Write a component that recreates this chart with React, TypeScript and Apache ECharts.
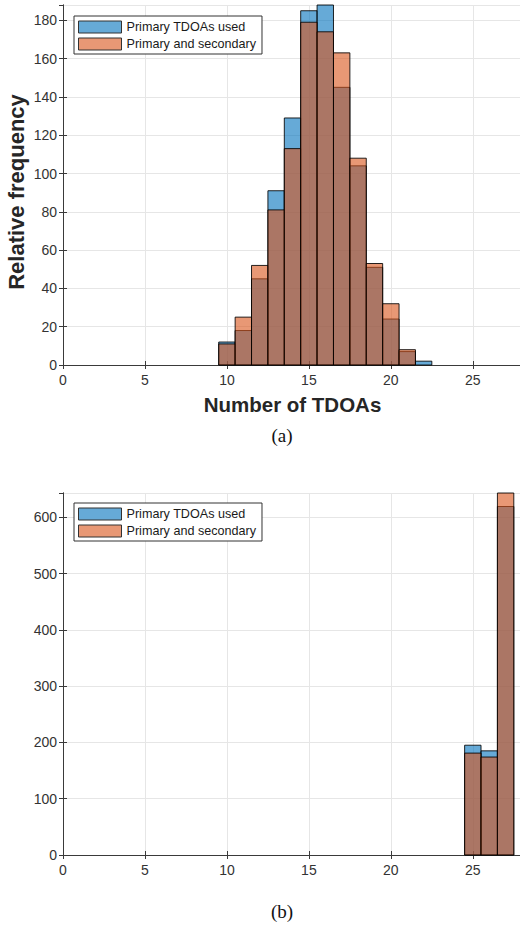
import React, { useEffect, useRef } from "react";
import * as echarts from "echarts";

// Histogram bins (centres; each bin spans centre ± 0.5)
const binsA = [10, 11, 12, 13, 14, 15, 16, 17, 18, 19, 20, 21, 22];
const primaryA = [12, 18, 45, 91, 129, 185, 191, 145, 104, 51, 24, 7, 2];
const combinedA = [11, 25, 52, 81, 113, 179, 174, 163, 108, 53, 32, 8, 0];

const binsB = [25, 26, 27];
const primaryB = [195, 185, 619];
const combinedB = [181, 174, 655];

const xTicks = [0, 5, 10, 15, 20, 25];
const names = ["Primary TDOAs used", "Primary and secondary"];
const captions = ["(a)", "(b)"];

const BLUE = "rgba(0,114,189,0.6)";
const ORANGE = "rgba(217,83,25,0.6)";
const SWATCH_BLUE = "#66aad7";
const SWATCH_ORANGE = "#e89875";
const AXIS = "#3a3a3a";
const LABEL = "#333333";
const GRIDLINE = "#e6e6e6";
const SANS = "'Liberation Sans', Arial, Helvetica, sans-serif";

function makeRender(fill: string) {
  return (params: any, api: any) => {
    const x = api.value(0);
    const v = api.value(1);
    if (!v) return null;
    const p0 = api.coord([x - 0.5, v]);
    const p1 = api.coord([x + 0.5, 0]);
    const cs = params.coordSys;
    const shape = echarts.graphic.clipRectByRect(
      { x: p0[0], y: p0[1], width: p1[0] - p0[0], height: p1[1] - p0[1] },
      { x: cs.x, y: cs.y, width: cs.width, height: cs.height }
    );
    if (!shape) return null;
    return {
      type: "rect",
      shape,
      style: { fill, stroke: "rgba(0,0,0,0.85)", lineWidth: 1 },
    };
  };
}

function xAxes(gridIndex: number) {
  const base = {
    type: "value" as const,
    gridIndex,
    min: 0,
    max: 28,
    interval: 5,
    axisLine: { show: true, lineStyle: { color: AXIS, width: 1 } },
    axisTick: { show: true, inside: true, length: 4, lineStyle: { color: AXIS } },
  };
  return [
    {
      ...base,
      position: "bottom",
      axisLabel: {
        show: true,
        margin: 8,
        fontSize: 14,
        fontFamily: SANS,
        color: LABEL,
        showMaxLabel: false,
        formatter: (v: number) => (xTicks.includes(v) ? String(v) : ""),
      },
      splitLine: { show: true, lineStyle: { color: GRIDLINE, width: 1 } },
    },
    {
      ...base,
      position: "top",
      axisLabel: { show: false },
      splitLine: { show: false },
    },
  ];
}

function yAxes(gridIndex: number, max: number, interval: number, withName: boolean) {
  const base = {
    type: "value" as const,
    gridIndex,
    min: 0,
    max,
    interval,
    axisLine: { show: true, lineStyle: { color: AXIS, width: 1 } },
    axisTick: { show: true, inside: true, length: 4, lineStyle: { color: AXIS } },
  };
  const left: any = {
    ...base,
    position: "left",
    axisLabel: {
      show: true,
      margin: 6,
      fontSize: 14,
      fontFamily: SANS,
      color: LABEL,
      showMaxLabel: false,
    },
    splitLine: { show: true, lineStyle: { color: GRIDLINE, width: 1 } },
  };
  if (withName) {
    Object.assign(left, {
      name: "Relative frequency",
      nameLocation: "middle",
      nameRotate: 90,
      nameGap: 36,
      nameMoveOverlap: false,
      nameTextStyle: {
        fontSize: 22,
        fontWeight: "bold",
        fontFamily: SANS,
        color: "#262626",
        padding: [0, 14, 0, 0],
      },
    });
  }
  return [
    left,
    { ...base, position: "right", axisLabel: { show: false }, splitLine: { show: false } },
  ];
}

function legendAt(top: number) {
  return {
    orient: "vertical",
    left: 74,
    top,
    padding: [4, 6, 3, 4],
    itemWidth: 43,
    itemHeight: 12,
    itemGap: 3,
    borderColor: "#333333",
    borderWidth: 1,
    backgroundColor: "#ffffff",
    textStyle: { fontSize: 12.6, fontFamily: SANS, color: "#1a1a1a", lineHeight: 14 },
    data: [
      { name: names[0], icon: "rect", itemStyle: { color: SWATCH_BLUE, borderColor: "#333", borderWidth: 1 } },
      { name: names[1], icon: "rect", itemStyle: { color: SWATCH_ORANGE, borderColor: "#333", borderWidth: 1 } },
    ],
    selectedMode: false,
  };
}

function series(name: string, bins: number[], values: number[], fill: string, axisIndex: number) {
  return {
    type: "custom",
    name,
    xAxisIndex: axisIndex,
    yAxisIndex: axisIndex,
    itemStyle: { color: fill },
    renderItem: makeRender(fill),
    data: bins.map((b, i) => [b, values[i]]),
    encode: { x: 0, y: 1 },
  };
}

export default function App() {
  const ref = useRef<HTMLDivElement>(null);

  useEffect(() => {
    if (!ref.current) return;
    const chart = echarts.init(ref.current, undefined, { renderer: "svg" });
    chart.setOption({
      animation: false,
      backgroundColor: "#ffffff",
      grid: [
        { left: 63, top: 5, width: 459, height: 360, outerBoundsMode: "none", containLabel: false },
        { left: 63, top: 493, width: 459, height: 362, outerBoundsMode: "none", containLabel: false },
      ],
      xAxis: [
        {
          ...xAxes(0)[0],
          name: "Number of TDOAs",
          nameLocation: "middle",
          nameGap: 29,
          nameMoveOverlap: false,
          nameTextStyle: { fontSize: 20.5, fontWeight: "bold", fontFamily: SANS, color: "#262626" },
        },
        xAxes(0)[1],
        ...xAxes(1),
      ],
      yAxis: [...yAxes(0, 188, 20, true), ...yAxes(1, 643, 100, false)],
      legend: [legendAt(16), legendAt(503)],
      series: [
        series(names[0], binsA, primaryA, BLUE, 0),
        series(names[1], binsA, combinedA, ORANGE, 0),
        series(names[0], binsB, primaryB, BLUE, 2),
        series(names[1], binsB, combinedB, ORANGE, 2),
      ],
      graphic: [
        {
          type: "text",
          x: 282,
          y: 435,
          style: {
            text: captions[0],
            fontSize: 19,
            fontFamily: "'Liberation Serif', 'Times New Roman', serif",
            fill: "#111",
            align: "center",
            verticalAlign: "middle",
          },
        },
        {
          type: "text",
          x: 282,
          y: 911,
          style: {
            text: captions[1],
            fontSize: 19,
            fontFamily: "'Liberation Serif', 'Times New Roman', serif",
            fill: "#111",
            align: "center",
            verticalAlign: "middle",
          },
        },
      ],
    });
    return () => chart.dispose();
  }, []);

  return (
    <div
      ref={ref}
      style={{ position: "fixed", left: 0, top: 0, width: 520, height: 932, overflow: "hidden" }}
    />
  );
}
